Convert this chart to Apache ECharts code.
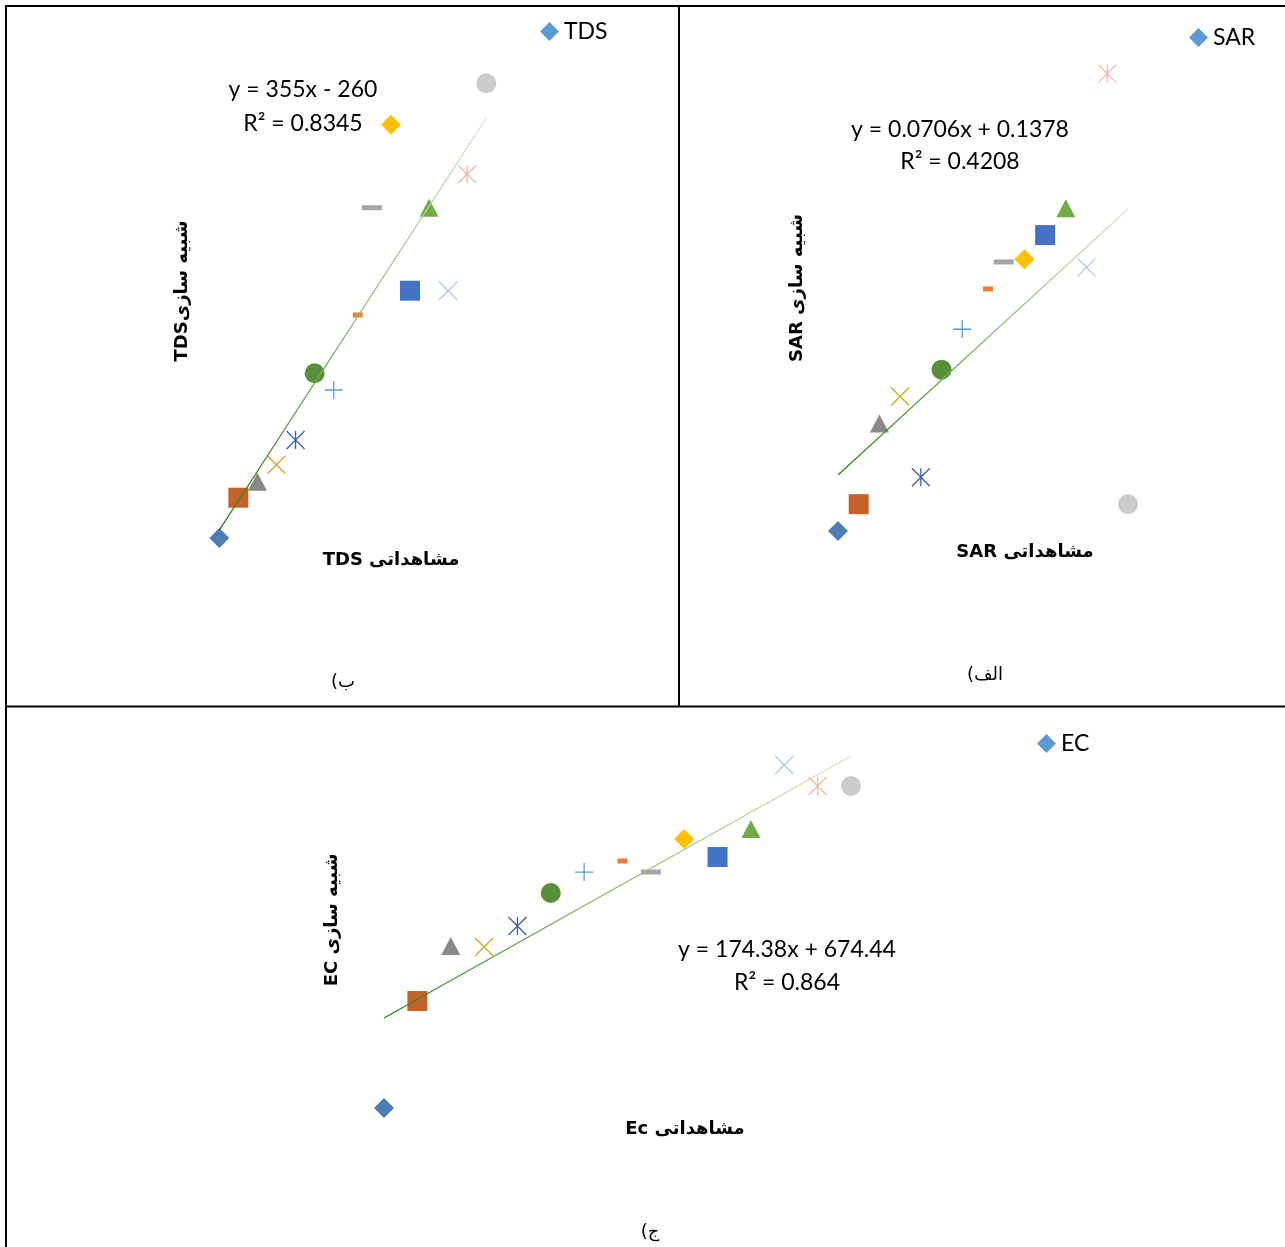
<!DOCTYPE html>
<html>
<head>
<meta charset="utf-8">
<script src="https://cdn.jsdelivr.net/npm/echarts@6/dist/echarts.min.js"></script>
<style>
html,body{margin:0;padding:0;background:#fff;}
#c{width:1285px;height:1247px;}
</style>
</head>
<body>
<div id="c"></div>
<script>
// ---------- DATA ----------
const X_INDEX = [1, 2, 3, 4, 5, 6, 7, 8, 9, 10, 11, 12, 13, 14, 15];
const TDS_SIM = [0, 485, 677, 883, 1181, 1986, 1784, 2689, 3983, 4984, 2982, 3983, 2982, 4386, 5484];
const SAR_SIM = [0.00, 0.10, 0.40, 0.50, 0.20, 0.60, 0.75, 0.90, 1.00, 1.01, 1.10, 1.20, 0.98, 1.70, 0.10];
const EC_SIM = [10, 1007, 1520, 1510, 1706, 2014, 2209, 2312, 2209, 2517, 2349, 2610, 3206, 3011, 3011];
const TDS_TREND = [355, -260];
const SAR_TREND = [0.0706, 0.1378];
const EC_TREND = [174.38, 674.44];
const TDS_R2 = '0.8345';
const SAR_R2 = '0.4208';
const EC_R2 = '0.864';
const SERIES_NAMES = ['TDS', 'SAR', 'EC'];
const X_TITLES = ['مشاهداتی TDS', 'مشاهداتی SAR', 'مشاهداتی Ec'];
const Y_TITLES = ['شبیه سازیTDS', 'شبیه سازی SAR', 'شبیه سازی EC'];
const PANEL_LABELS = ['ب)', 'الف)', 'ج)'];

// ---------- STYLES ----------
const X_PATH = 'path://M0,0L10,10M10,0L0,10';
const PLUS_PATH = 'path://M5,0L5,10M0,5L10,5';
const AST_PATH = 'path://M0,0L10,10M10,0L0,10M5,0L5,10';
const MARKERS = [
  {symbol: 'diamond', size: 20, color: '#4a7eb5'},
  {symbol: 'rect', size: 20, color: '#c4622a'},
  {symbol: 'triangle', size: [19, 18], color: '#898989'},
  {symbol: X_PATH, size: 18, color: '#d9a31c', stroke: true},
  {symbol: AST_PATH, size: 18, color: '#3a60ad', stroke: true},
  {symbol: 'circle', size: 20, color: '#5a8f3a'},
  {symbol: PLUS_PATH, size: 18, color: '#5b9bd5', stroke: true},
  {symbol: 'rect', size: [10, 5], color: '#ed7d31', offset: [5, 0]},
  {symbol: 'rect', size: [20, 5], color: '#a5a5a5'},
  {symbol: 'diamond', size: 20, color: '#ffc000'},
  {symbol: 'rect', size: 20, color: '#4472c4'},
  {symbol: 'triangle', size: [19, 18], color: '#70ad47'},
  {symbol: X_PATH, size: 18, color: '#aec7ea', stroke: true},
  {symbol: AST_PATH, size: 18, color: '#f4b5a2', stroke: true},
  {symbol: 'circle', size: 20, color: '#cbcbcb'}
];

const LAYOUT = [
  {grid: {left: 9.5, width: 667.5, top: 40.5, height: 621.75}, x: [-10, 25], y: [-1500, 6000],
   legend: {left: 541, top: 21}, eq: [303, 90], r2: [303, 124], xt: [391, 560], yt: [182, 291], lab: [343, 682]},
  {grid: {left: 693, width: 580, top: 19.8, height: 645.85}, x: [-6, 22], y: [-0.5, 1.9],
   legend: {left: 1190, top: 27}, eq: [960, 130], r2: [960, 162], xt: [1025, 552], yt: [797, 288], lab: [985, 675]},
  {grid: {left: 17.07, width: 1234.2, top: 733.5, height: 482.9}, x: [-10, 27], y: [-1000, 3500],
   legend: {left: 1038, top: 733}, eq: [787, 950], r2: [787, 983], xt: [685, 1129], yt: [332, 920], lab: [650, 1232]}
];

const SIMS = [TDS_SIM, SAR_SIM, EC_SIM];
const TRENDS = [TDS_TREND, SAR_TREND, EC_TREND];
const R2S = [TDS_R2, SAR_R2, EC_R2];

const RTL = s => '\u202B' + s + '\u202C';
const EQ_FONT = 'Lato';

function eqText(t) {
  const a = t[0], b = t[1];
  return 'y = ' + a + 'x ' + (b < 0 ? '- ' : '+ ') + Math.abs(b);
}

const chart = echarts.init(document.getElementById('c'), null, {renderer: 'canvas'});

const grids = [], xAxes = [], yAxes = [], series = [], legends = [], graphics = [];

LAYOUT.forEach((L, p) => {
  grids.push(Object.assign({outerBoundsMode: 'none', containLabel: false}, L.grid));
  xAxes.push({type: 'value', gridIndex: p, min: L.x[0], max: L.x[1], show: false});
  yAxes.push({type: 'value', gridIndex: p, min: L.y[0], max: L.y[1], show: false});

  const data = X_INDEX.map((x, i) => {
    const m = MARKERS[i];
    const item = {
      value: [x, SIMS[p][i]],
      symbol: m.symbol,
      symbolSize: m.size,
      itemStyle: m.stroke
        ? {color: m.color, borderColor: m.color, borderWidth: 1.3, opacity: 1}
        : {color: m.color, borderWidth: 0, opacity: 1}
    };
    if (m.offset) item.symbolOffset = m.offset;
    return item;
  });
  series.push({
    name: SERIES_NAMES[p], type: 'scatter', xAxisIndex: p, yAxisIndex: p,
    itemStyle: {color: '#5b9bd5', opacity: 1}, data: data, clip: false, z: 2,
    emphasis: {disabled: true}
  });

  const tr = TRENDS[p];
  const x0 = X_INDEX[0], x1 = X_INDEX[X_INDEX.length - 1];
  series.push({
    name: SERIES_NAMES[p] + ' trend', type: 'line', xAxisIndex: p, yAxisIndex: p,
    data: [[x0, tr[0] * x0 + tr[1]], [x1, tr[0] * x1 + tr[1]]],
    symbol: 'none', clip: false, silent: true, z: 3,
    lineStyle: {
      width: 1.3,
      color: new echarts.graphic.LinearGradient(0, 1, 1, 0, [
        {offset: 0, color: '#2a7a1e'},
        {offset: 0.5, color: '#8cba68'},
        {offset: 1, color: '#d8e7cb'}
      ])
    }
  });

  legends.push({
    data: [SERIES_NAMES[p]], left: L.legend.left - 1, top: L.legend.top - 1,
    icon: 'diamond', itemWidth: 19, itemHeight: 19, itemGap: 5, padding: 0,
    selectedMode: false,
    itemStyle: {color: '#5b9bd5', opacity: 1},
    textStyle: {fontFamily: EQ_FONT, fontSize: 23, color: '#000', padding: [0, 0, 0, 0]}
  });

  const txt = (x, y, text, size, family, weight, rot) => ({
    type: 'text', x: x, y: y, rotation: rot || 0, silent: true,
    style: {text: text, fontSize: size, fontFamily: family, fontWeight: weight || 'normal',
      fill: '#000', align: 'center', verticalAlign: 'middle', textAlign: 'center', textVerticalAlign: 'middle'}
  });
  graphics.push(txt(L.eq[0], L.eq[1], eqText(tr), 23, EQ_FONT));
  graphics.push(txt(L.r2[0], L.r2[1], 'R\u00B2 = ' + R2S[p], 23, EQ_FONT));
  graphics.push(txt(L.xt[0], L.xt[1], RTL(X_TITLES[p]), 18, 'DejaVu Sans', 'bold'));
  graphics.push(txt(L.yt[0], L.yt[1], RTL(Y_TITLES[p]), 18, 'DejaVu Sans', 'bold', Math.PI / 2));
  graphics.push(txt(L.lab[0], L.lab[1], RTL(PANEL_LABELS[p]), 18, 'DejaVu Sans'));
});

// table borders
const line = (x1, y1, x2, y2) => ({type: 'line', silent: true, shape: {x1, y1, x2, y2},
  style: {stroke: '#000', lineWidth: 2}});
graphics.push(line(5, 6, 1285, 6));
graphics.push(line(6, 5, 6, 1247));
graphics.push(line(679, 6, 679, 706));
graphics.push(line(5, 706.5, 1285, 706.5));

chart.setOption({
  animation: false,
  backgroundColor: '#fff',
  grid: grids, xAxis: xAxes, yAxis: yAxes,
  legend: legends, series: series, graphic: graphics
});
</script>
</body>
</html>
